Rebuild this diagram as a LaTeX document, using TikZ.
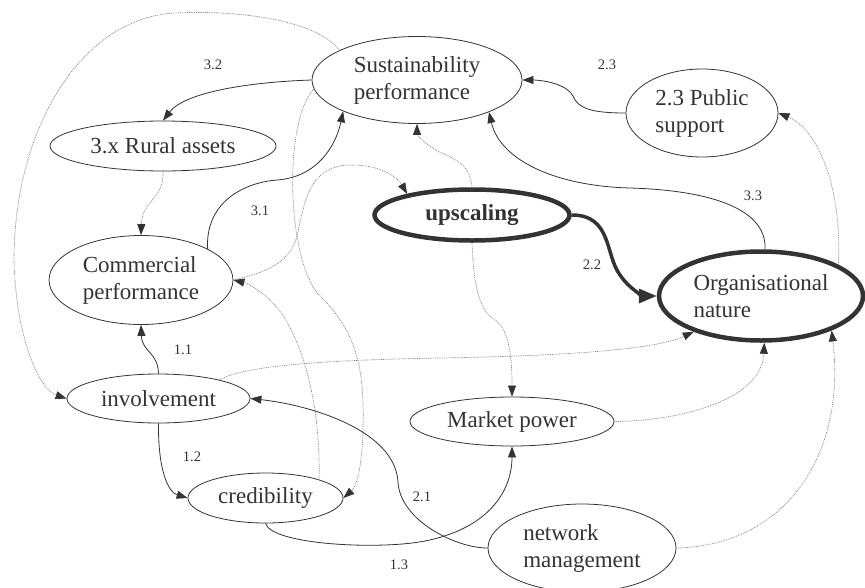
\documentclass[tikz,border=0pt]{standalone}
\usepackage{fontspec}
\setmainfont{Liberation Serif}
\usetikzlibrary{arrows.meta,shapes.geometric}
\definecolor{ink}{HTML}{333333}
\definecolor{dots}{HTML}{858585}
\begin{document}
\begin{tikzpicture}[x=1pt,y=-1pt,
  concept/.style={ellipse,draw=ink,line width=0.8pt,inner sep=0pt,align=left,text=ink,
    font=\fontsize{23}{27}\selectfont},
  keynode/.style={concept,line width=4.5pt},
  link/.style={draw=ink,line width=0.8pt,-{Triangle[length=11pt,width=8pt]}},
  boldlink/.style={draw=ink,line width=3.5pt,-{Triangle[length=18pt,width=14pt]}},
  hint/.style={draw=dots,line width=0.7pt,dash pattern=on 0.9pt off 0.9pt,
    -{Triangle[length=11pt,width=8pt,color=ink]}},
  tag/.style={text=ink,font=\fontsize{14.5}{16}\selectfont,inner sep=0pt}]
\useasboundingbox (0,0) rectangle (865,587);

% concepts
\node[concept,minimum width=210pt,minimum height=87pt] (sust) at (417,80) {Sustainability\\performance};
\node[concept,minimum width=226pt,minimum height=50pt] (rural) at (163,146) {3.x Rural assets};
\node[concept,minimum width=184pt,minimum height=89pt] (comm) at (141,280) {Commercial\\performance};
\node[keynode,minimum width=195pt,minimum height=51pt,font=\fontsize{23}{27}\selectfont\bfseries] (ups) at (472,215) {upscaling};
\node[concept,minimum width=152pt,minimum height=88pt] (pub) at (702,113) {2.3 Public\\support};
\node[keynode,minimum width=204pt,minimum height=89pt] (org) at (761,296) {Organisational\\nature};
\node[concept,minimum width=204pt,minimum height=49pt] (mkt) at (512,421.5) {Market power};
\node[concept,minimum width=183pt,minimum height=49pt] (inv) at (158.5,398.5) {involvement};
\node[concept,minimum width=155pt,minimum height=50pt] (cred) at (265.5,498) {credibility};
\node[concept,minimum width=188pt,minimum height=88pt] (net) at (582,548) {network\\management};

% edge numbers
\node[tag] (t32) at (213,65) {3.2};
\node[tag] (t31) at (260,211) {3.1};
\node[tag] (t23) at (607,65) {2.3};
\node[tag] (t33) at (753,196) {3.3};
\node[tag] (t22) at (592,265) {2.2};
\node[tag] (t11) at (183,350) {1.1};
\node[tag] (t12) at (192,457) {1.2};
\node[tag] (t21) at (422,497) {2.1};
\node[tag] (t13) at (399,565) {1.3};

% weak (dotted) influences
\draw[hint] (sust.159) .. controls (315,18) and (230,10) .. (175,13)
  .. controls (80,18) and (14,130) .. (14,260)
  .. controls (16,340) and (40,390) .. (inv.west);
\draw[hint] (rural.south) .. controls (164,200) and (142,200) .. (comm.north);
\draw[hint] (sust.185) .. controls (284,120) and (286,255) .. (318,294)
  .. controls (362,335) and (364,380) .. (363,430)
  .. controls (362,470) and (356,487) .. (cred.east);
\draw[hint] (cred.19) .. controls (321,400) and (300,330) .. (272,302)
  .. controls (262,292) and (250,284) .. (comm.east);
\draw[hint] (comm.east) .. controls (268,272) and (292,262) .. (298,232)
  .. controls (306,190) and (315,165) .. (352,165)
  .. controls (382,165) and (398,178) .. (ups.162);
\draw[hint] (ups.north) .. controls (470,160) and (447,157) .. (436,150)
  .. controls (424,143) and (417,135) .. (sust.south);
\draw[hint] (ups.south) .. controls (474,295) and (482,312) .. (495,320)
  .. controls (510,330) and (512,360) .. (mkt.north);
\draw[hint] (inv.17) .. controls (245,365) and (330,360) .. (440,358)
  .. controls (560,356) and (655,350) .. (org.208);
\draw[hint] (mkt.east) .. controls (680,421) and (762,400) .. (org.274);
\draw[hint] (net.east) .. controls (790,545) and (846,450) .. (org.334);
\draw[hint] (org.22) .. controls (842,180) and (815,128) .. (pub.east);

% main (solid) influences
\draw[link] (sust.west) .. controls (250,82) and (185,92) .. (rural.north);
\draw[link] (comm.25) .. controls (205,205) and (240,183) .. (277,180)
  .. controls (318,177) and (336,145) .. (sust.203);
\draw[link] (pub.west) .. controls (590,113) and (578,108) .. (573,96)
  .. controls (566,83) and (540,80) .. (sust.east);
\draw[link] (org.85) .. controls (767,205) and (700,190) .. (630,188)
  .. controls (555,186) and (500,160) .. (sust.336);
\draw[boldlink] (ups.east) .. controls (612,215) and (605,255) .. (620,275)
  .. controls (630,290) and (645,296) .. (org.west);
\draw[link] (inv.north) .. controls (158,352) and (142,352) .. (comm.south);
\draw[link] (inv.south) .. controls (158,470) and (168,492) .. (cred.west);
\draw[link] (cred.south) .. controls (272,545) and (380,550) .. (425,541)
  .. controls (490,528) and (512,490) .. (mkt.south);
\draw[link] (net.west) .. controls (455,548) and (400,520) .. (398,482)
  .. controls (395,430) and (310,405) .. (inv.east);
\end{tikzpicture}
\end{document}
